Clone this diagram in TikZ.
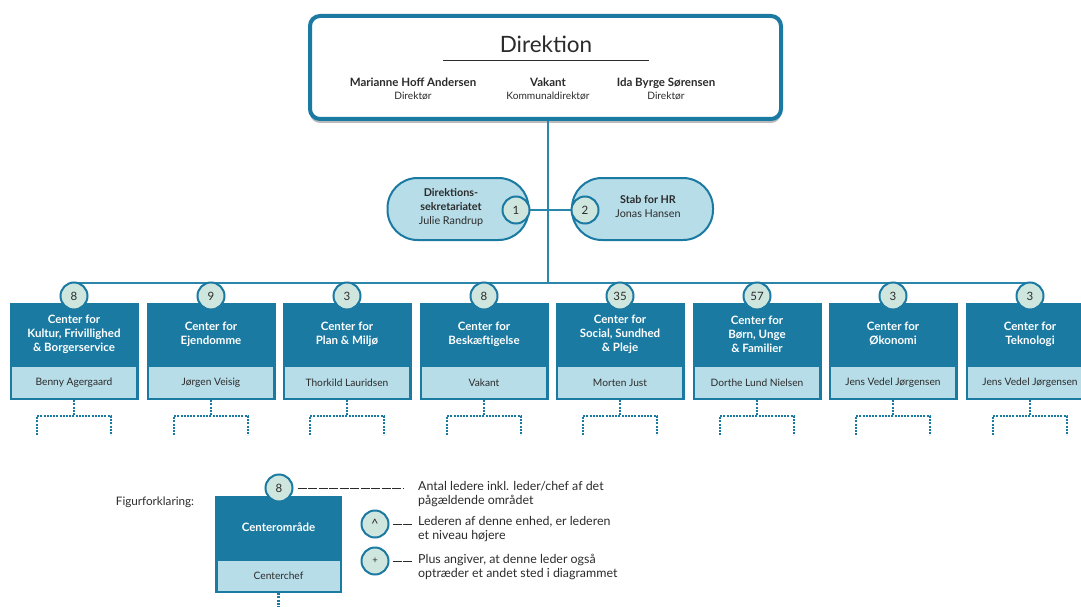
\documentclass[tikz,border=0pt]{standalone}
\usepackage{fontspec}
\setmainfont{Lato}
\usetikzlibrary{shadows,calc}
\definecolor{dblue}{HTML}{1A7AA2}
\definecolor{lblue}{HTML}{B7DDE8}
\definecolor{mint}{HTML}{CFE6DF}
\definecolor{lineblue}{HTML}{2A86AB}
\definecolor{txt}{HTML}{2B2B2B}
\begin{document}
\begin{tikzpicture}[x=1pt,y=-1pt,
  cbox/.style={fill=dblue, draw=none, minimum width=129pt, minimum height=97pt, inner sep=0pt},
  band/.style={fill=lblue, minimum width=124pt, minimum height=31pt, inner sep=0pt, text=txt, font=\fontsize{10.2}{11}\selectfont},
  ctitle/.style={text=white, font=\bfseries\fontsize{11.5}{14}\selectfont, align=center, inner sep=0pt},
  num/.style={circle, fill=mint, draw=dblue, line width=2pt, minimum size=27pt, inner sep=0pt, text=txt, font=\fontsize{11.5}{11.5}\selectfont},
  conn/.style={draw=lineblue, line width=2.5pt},
  dots/.style={draw=dblue, line width=2.4pt, dash pattern=on 2pt off 1.2pt},
  pill/.style={fill=lblue, draw=dblue, line width=2pt, rounded corners=30pt, minimum width=141pt, minimum height=62pt, inner sep=0pt},
  ptext/.style={text=txt, align=center, font=\fontsize{10.8}{14}\selectfont, inner sep=0pt},
  dname/.style={text=txt, align=center, font=\fontsize{10.2}{13.5}\selectfont, inner sep=0pt},
  legtext/.style={text=txt, align=left, anchor=west, font=\fontsize{12.4}{14}\selectfont, inner sep=0pt},
  legdash/.style={draw=txt, line width=0.6pt, dash pattern=on 9pt off 1.5pt}
]
\useasboundingbox (0,0) rectangle (1081,607);
\clip (0,0) rectangle (1081,607);

% Direktion
\node[draw=dblue, line width=4pt, rounded corners=10pt, fill=white, minimum width=471pt, minimum height=103pt,
      drop shadow={shadow xshift=0pt, shadow yshift=-4pt, opacity=0.45, fill=black!60}] (dir) at (545.5,67.5) {};
\node[text=txt, font=\fontsize{22.5}{22.5}\selectfont, inner sep=0pt] (dtitle) at (546,44) {Direktion};
\coordinate (ul) at (443,60);
\coordinate (ur) at (649,60);
\draw[txt, line width=0.8pt] (ul) -- (ur);
\node[dname] (d1) at (413,89) {{\bfseries\fontsize{11.5}{13.5}\selectfont Marianne Hoff Andersen}\\Direktør};
\node[dname] (d2) at (548,89) {{\bfseries\fontsize{11.5}{13.5}\selectfont Vakant}\\Kommunaldirektør};
\node[dname] (d3) at (666,89) {{\bfseries\fontsize{11.5}{13.5}\selectfont Ida Byrge Sørensen}\\Direktør};

% junction + pills
\coordinate (j) at (548,283);
\node[pill] (p1) at (458,209) {};
\node[pill] (p2) at (642.5,209) {};
\node[ptext] (p1t) at (451,207) {\textbf{Direktions-}\\\textbf{sekretariatet}\\Julie Randrup};
\node[ptext] (p2t) at (648,207) {\textbf{Stab for HR}\\Jonas Hansen};

% boxes
\foreach \i/\x/\n/\t/\nm in {
  1/74/8/{Center for\\Kultur, Frivillighed\\\& Borgerservice}/{Benny Agergaard},
  2/211/9/{Center for\\Ejendomme}/{Jørgen Veisig},
  3/347/3/{Center for\\Plan \& Miljø}/{Thorkild Lauridsen},
  4/484/8/{Center for\\Beskæftigelse}/{Vakant},
  5/620/35/{Center for\\Social, Sundhed\\\& Pleje}/{Morten Just},
  6/757/57/{Center for\\Børn, Unge\\\& Familier}/{Dorthe Lund Nielsen},
  7/893/3/{Center for\\Økonomi}/{Jens Vedel Jørgensen},
  8/1030/3/{Center for\\Teknologi}/{Jens Vedel Jørgensen}} {
  \node[cbox] (b\i) at (\x,351.5) {};
  \node[band] (n\i) at (\x,382.5) {\nm};
  \node[ctitle] (t\i) at (\x,334) {\t};
  \draw[dots] (b\i.south) -- ++(0,16) coordinate (m\i);
  \draw[dots] ($(m\i)+(-37,19)$) -- ++(0,-19) -- ++(74,0) -- ++(0,19);
}

% connectors
\draw[conn] (dir.south -| j) -- (j);
\draw[conn] (b1.north) ++(0,-20) coordinate (busl) -- (busl -| b8.north);
\coordinate (s1) at (516,210);
\coordinate (s2) at (585,210);
\draw[conn] (s1) -- (s2);

\foreach \i/\x/\n in {1/74/8,2/211/9,3/347/3,4/484/8,5/620/35,6/757/57,7/893/3,8/1030/3} {
  \node[num] (c\i) at (\x,296) {\n};
}
\node[num] (q1) at (s1) {1};
\node[num] (q2) at (s2) {2};

% legend
\node[text=txt, font=\fontsize{11.7}{14}\selectfont, inner sep=0pt] (fig) at (155,502) {Figurforklaring:};
\node[cbox, minimum width=127pt] (lb) at (278.5,544.5) {};
\node[band, minimum width=122pt, minimum height=30pt] (ln) at (278.5,576) {Centerchef};
\node[ctitle] (lt) at (278.5,527) {Centerområde};
\draw[dots] (lb.south) -- ++(0,16);
\node[num] (lc) at (279,488) {8};
\node[num, font=\fontsize{13}{13}\selectfont] (la) at (375,524) {\raisebox{-3pt}{\textasciicircum}};
\node[num, font=\fontsize{9.5}{9.5}\selectfont] (lp) at (375,561) {+};
\node[legtext] (lt1) at (418,494) {Antal ledere inkl. leder/chef af det\\pågældende området};
\node[legtext] (lt2) at (418,529) {Lederen af denne enhed, er lederen\\et niveau højere};
\node[legtext] (lt3) at (418,567) {Plus angiver, at denne leder også\\optræder et andet sted i diagrammet};
\coordinate (e1) at (404,488);
\coordinate (e2) at (413,524);
\coordinate (e3) at (413,561);
\draw[legdash] (lc.east) ++(4,0) -- (e1);
\draw[legdash] (la.east) ++(3,0) -- (e2);
\draw[legdash] (lp.east) ++(3,0) -- (e3);
\end{tikzpicture}
\end{document}
